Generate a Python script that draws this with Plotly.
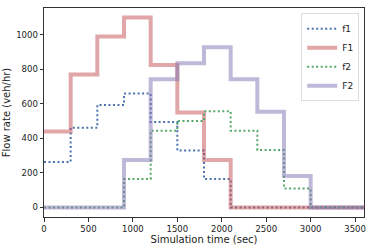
import plotly.graph_objects as go

t = [0, 300, 600, 900, 1200, 1500, 1800, 2100, 2400, 2700, 3000, 3300]
t_end = 3600
f1 = [264, 462, 594, 660, 495, 330, 165, 0, 0, 0, 0, 0]
F1 = [440, 770, 990, 1100, 825, 550, 275, 0, 0, 0, 0, 0]
f2 = [0, 0, 0, 165, 445, 501, 557, 445, 333, 110, 0, 0]
F2 = [0, 0, 0, 275, 742, 835, 928, 742, 555, 183, 0, 0]

series = [
    ("f1", f1, dict(color="#4c72b0", width=2, dash="2px,2.5px")),
    ("F1", F1, dict(color="rgba(196,78,82,0.5)", width=4)),
    ("f2", f2, dict(color="#55a868", width=2, dash="2px,2.5px")),
    ("F2", F2, dict(color="rgba(129,114,178,0.5)", width=4)),
]

fig = go.Figure()
for name, v, line in series:
    fig.add_trace(go.Scatter(x=t + [t_end], y=v + [v[-1]], mode="lines",
                             line_shape="hv", line=line, name=name))

axis_common = dict(showgrid=False, zeroline=False, showline=True, mirror=True,
                   linecolor="#333333", linewidth=1, ticks="outside", ticklen=3.5,
                   tickcolor="#333333", tickfont=dict(size=8.5, color="#222"),
                   automargin=False)
fig.update_layout(
    width=374, height=249,
    margin=dict(l=44, r=10, t=8, b=32),
    paper_bgcolor="white", plot_bgcolor="white",
    font=dict(family="DejaVu Sans", size=9.5, color="#222"),
    xaxis=dict(range=[0, 3600], tickvals=[0, 500, 1000, 1500, 2000, 2500, 3000, 3500],
               title=dict(text="Simulation time (sec)", standoff=1, font=dict(size=10)),
               **axis_common),
    yaxis=dict(range=[-55, 1155], tickvals=[0, 200, 400, 600, 800, 1000],
               title=dict(text="Flow rate (veh/hr)", standoff=3, font=dict(size=10)),
               **axis_common),
    legend=dict(x=0.985, y=0.975, xanchor="right", yanchor="top",
                bgcolor="rgba(255,255,255,0.8)", bordercolor="#dddddd", borderwidth=1,
                font=dict(size=9), itemwidth=30, tracegroupgap=0),
    showlegend=True,
)
fig.write_html("out.html", post_script="document.body.style.margin='0';",
               config={"displayModeBar": False})
